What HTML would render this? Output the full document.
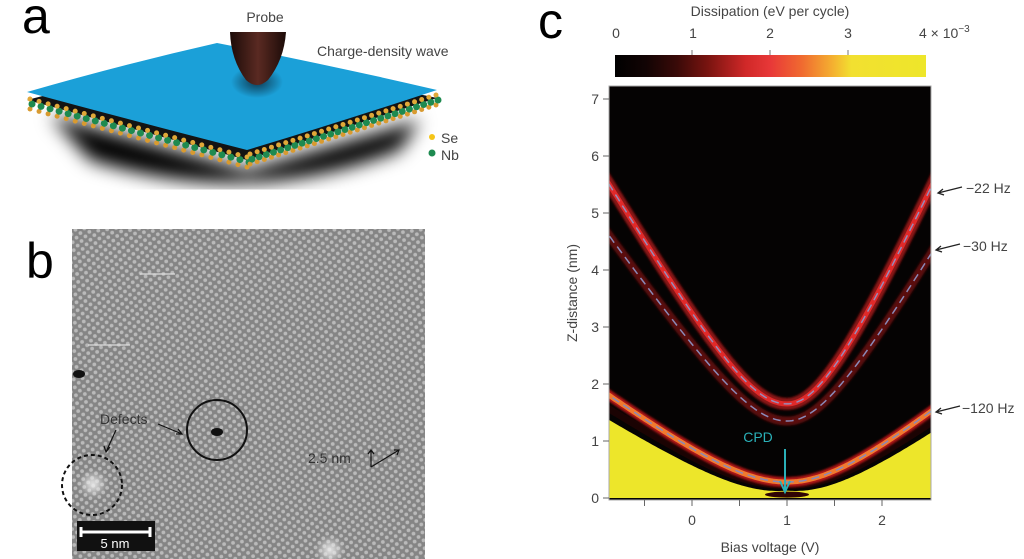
<!DOCTYPE html>
<html><head><meta charset="utf-8">
<style>
html,body{margin:0;padding:0;background:#fff;width:1024px;height:559px;overflow:hidden}
svg{display:block}
text{font-family:"Liberation Sans","DejaVu Sans",sans-serif}
</style></head>
<body>
<svg id="s" width="1024" height="559" viewBox="0 0 1024 559" xmlns="http://www.w3.org/2000/svg">
<defs>
  <radialGradient id="shadow" cx="0.5" cy="0.3" r="0.6">
    <stop offset="0" stop-color="#000" stop-opacity="1"/>
    <stop offset="0.6" stop-color="#000" stop-opacity="0.7"/>
    <stop offset="1" stop-color="#000" stop-opacity="0"/>
  </radialGradient>
  <linearGradient id="tip" x1="0" x2="1">
    <stop offset="0" stop-color="#1c0b08"/><stop offset="0.5" stop-color="#5a2a22"/><stop offset="1" stop-color="#1c0b08"/>
  </linearGradient>
  <radialGradient id="tipShade" cx="0.5" cy="0.5" r="0.5">
    <stop offset="0" stop-color="#0a2030" stop-opacity="0.8"/><stop offset="1" stop-color="#0a2030" stop-opacity="0"/>
  </radialGradient>
  <linearGradient id="cbar" x1="0" x2="1">
    <stop offset="0" stop-color="#000"/>
    <stop offset="0.1" stop-color="#120404"/>
    <stop offset="0.2" stop-color="#3a0a08"/>
    <stop offset="0.3" stop-color="#7a1410"/>
    <stop offset="0.42" stop-color="#d02828"/>
    <stop offset="0.5" stop-color="#e83838"/>
    <stop offset="0.6" stop-color="#f06a30"/>
    <stop offset="0.7" stop-color="#f4b030"/>
    <stop offset="0.76" stop-color="#f2e030"/>
    <stop offset="1" stop-color="#eee62a"/>
  </linearGradient>
  <pattern id="lat" width="9" height="8" patternUnits="userSpaceOnUse" patternTransform="rotate(-8)">
    <rect width="9" height="8" fill="#858585"/>
    <circle cx="2.2" cy="2" r="1.9" fill="#bababa"/>
    <circle cx="6.7" cy="6" r="1.9" fill="#bababa"/>
  </pattern>
  <radialGradient id="bright"><stop offset="0" stop-color="#eee"/><stop offset="1" stop-color="#eee" stop-opacity="0"/></radialGradient>
  <filter id="blur2"><feGaussianBlur stdDeviation="2"/></filter>
  <filter id="blur1"><feGaussianBlur stdDeviation="1"/></filter>
  <filter id="blur8"><feGaussianBlur stdDeviation="9"/></filter>
  <clipPath id="plotclip"><rect x="609" y="86" width="322" height="414"/></clipPath>
</defs>

<!-- Panel a -->
<text x="22" y="33" font-size="50" fill="#000">a</text>
<path d="M50,115 L247,170 L420,120 L400,150 Q250,210 90,160 Z" fill="#000" filter="url(#blur8)"/>
<path d="M27,92 L217,43 L437,90 L247,152 Z" fill="#131313" transform="translate(0,8)"/>
<g id="atoms"></g>
<path d="M27,92 Q120,65 217,43 Q330,65 437,90 Q340,122 247,150 Q130,120 27,92 Z" fill="#1ba0d8"/>
<ellipse cx="257" cy="82" rx="26" ry="16" fill="url(#tipShade)"/>
<path d="M230,32 L286,32 Q284,60 268,80 Q257,90 246,80 Q231,60 230,32 Z" fill="url(#tip)"/>
<text x="265" y="22" font-size="14" fill="#444" text-anchor="middle">Probe</text>
<text x="317" y="56" font-size="14" fill="#444">Charge-density wave</text>
<circle cx="432" cy="137" r="3" fill="#f5c518"/>
<text x="441" y="143" font-size="14" fill="#444">Se</text>
<circle cx="432" cy="153" r="3.5" fill="#1e8a50"/>
<text x="441" y="160" font-size="14" fill="#444">Nb</text>

<!-- Panel b -->
<text x="26" y="278" font-size="50" fill="#000">b</text>
<rect x="72" y="229" width="353" height="330" fill="url(#lat)"/>
<circle cx="93" cy="484" r="14" fill="url(#bright)" filter="url(#blur2)"/>
<circle cx="330" cy="550" r="14" fill="url(#bright)" filter="url(#blur2)"/>
<ellipse cx="79" cy="374" rx="6" ry="4" fill="#111"/>
<ellipse cx="217" cy="432" rx="6" ry="4" fill="#111"/>
<line x1="140" y1="274" x2="175" y2="274" stroke="#ddd" stroke-width="1.2"/>
<line x1="88" y1="345" x2="130" y2="345" stroke="#ddd" stroke-width="1.2"/>
<circle cx="217" cy="430" r="30" fill="none" stroke="#111" stroke-width="2"/>
<circle cx="92" cy="485" r="30" fill="none" stroke="#111" stroke-width="2" stroke-dasharray="4,3"/>
<text x="100" y="424" font-size="14" fill="#333">Defects</text>
<path d="M158,424 L182,434 M176,434 L182,434 L178,429" stroke="#111" fill="none" stroke-width="1.2"/>
<path d="M116,430 L106,452 M104,446 L106,452 L110,447" stroke="#111" fill="none" stroke-width="1.2"/>
<text x="308" y="463" font-size="14" fill="#333">2.5 nm</text>
<path d="M371,467 L371,450 M368,454 L371,450 L374,454 M371,467 L399,450 M394,450 L399,450 L397,455" stroke="#111" fill="none" stroke-width="1.2"/>
<rect x="77" y="521" width="78" height="30" fill="#111"/>
<path d="M81,527 L81,537 M81,532 L150,532 M150,527 L150,537" stroke="#fff" stroke-width="3" fill="none"/>
<text x="115" y="548" font-size="13" fill="#fff" text-anchor="middle">5 nm</text>

<!-- Panel c -->
<text x="538" y="38" font-size="50" fill="#000">c</text>
<text x="770" y="16" font-size="14" fill="#444" text-anchor="middle">Dissipation (eV per cycle)</text>
<g font-size="14" fill="#444" text-anchor="middle">
<text x="616" y="38">0</text><text x="693" y="38">1</text><text x="770" y="38">2</text><text x="848" y="38">3</text>
</g>
<text x="919" y="38" font-size="14" fill="#444">4 × 10<tspan dy="-6" font-size="10">−3</tspan></text>
<rect x="615" y="55" width="311" height="22" fill="url(#cbar)"/>
<g stroke="#777" stroke-width="1"><line x1="692" y1="50" x2="692" y2="55"/><line x1="770" y1="50" x2="770" y2="55"/><line x1="848" y1="50" x2="848" y2="55"/></g>

<rect x="609" y="86" width="322" height="414" fill="#050303"/>
<g id="plot" clip-path="url(#plotclip)"></g>
<rect x="609" y="86" width="322" height="414" fill="none" stroke="#aaa" stroke-width="1"/>
<g id="axes" stroke="#666" stroke-width="1"></g>
<g font-size="14" fill="#444" text-anchor="end" id="ylab"></g>
<g font-size="14" fill="#444" text-anchor="middle">
<text x="692" y="525">0</text><text x="787" y="525">1</text><text x="882" y="525">2</text>
<text x="770" y="552">Bias voltage (V)</text>
</g>
<text transform="translate(577,293) rotate(-90)" font-size="14" fill="#444" text-anchor="middle">Z-distance (nm)</text>
<text x="758" y="442" font-size="14" fill="#2ab0b8" text-anchor="middle">CPD</text>
<path d="M785,449 L785,490 M780,481 L785,492 L790,481" stroke="#2ab0b8" stroke-width="2" fill="none"/>
<g font-size="14" fill="#444">
<text x="966" y="193">−22 Hz</text><text x="963" y="251">−30 Hz</text><text x="962" y="413">−120 Hz</text>
</g>
<g stroke="#222" stroke-width="1.3" fill="none">
<path d="M962,187 L938,193 M943,189 L938,193 L944,195"/>
<path d="M960,244 L936,250 M941,246 L936,250 L942,252"/>
<path d="M960,406 L936,412 M941,408 L936,412 L942,414"/>
</g>
</svg>
<script>
var NS="http://www.w3.org/2000/svg";
function el(p,t,a){var e=document.createElementNS(NS,t);for(var k in a)e.setAttribute(k,a[k]);p.appendChild(e);return e;}
var X=function(v){return 692+95*v;}, Y=function(z){return 498-57*z;};
function curve(c,w,sl,sr,cx){return function(v){var d=v-cx;var s=d<0?sl:sr;return c+s*(Math.sqrt(d*d+w*w)-w);};}
var c22=curve(1.65,0.6,2.82,3.69,1.0), c30=curve(1.35,0.6,2.38,2.85,1.0), c120=curve(0.28,0.8,1.23,1.36,1.0);
function path(f,off){var d="";for(var v=-0.95;v<=2.6;v+=0.02){d+=(d?"L":"M")+X(v).toFixed(1)+","+Y(f(v)+(off||0)).toFixed(1);}return d;}
var P=document.getElementById("plot");
var yd="M"+X(-1)+","+Y(0);
for(var v=-1;v<=2.6;v+=0.02){var dv=Math.abs(v-1);var z=c120(v)-(0.15+0.15*dv); yd+="L"+X(v).toFixed(1)+","+Y(Math.max(z,0)).toFixed(1);}
yd+="L"+X(2.6)+","+Y(0)+"Z";
el(P,"path",{d:yd,fill:"#ede62a"});
el(P,"ellipse",{cx:X(1.0),cy:Y(0.06),rx:22,ry:3,fill:"#300404"});
el(P,"path",{d:path(function(v){return c120(v)-0.05-0.1*Math.abs(v-1);}),stroke:"#200404","stroke-width":7,fill:"none",opacity:0.8});
el(P,"path",{d:path(c120),stroke:"#b01818","stroke-width":10,fill:"none",filter:"url(#blur1)"});
el(P,"path",{d:path(c120),stroke:"#f07a30","stroke-width":5,fill:"none"});
el(P,"path",{d:path(c120),stroke:"#8a8ab8","stroke-width":1.5,fill:"none","stroke-dasharray":"8,5"});
el(P,"path",{d:path(c30),stroke:"#5a0c0c","stroke-width":9,fill:"none",filter:"url(#blur1)"});
el(P,"path",{d:path(c30),stroke:"#8a8ab8","stroke-width":1.5,fill:"none","stroke-dasharray":"8,5"});
el(P,"path",{d:path(c22),stroke:"#8a1414","stroke-width":12,fill:"none",filter:"url(#blur1)"});
el(P,"path",{d:path(c22),stroke:"#e02a2a","stroke-width":5,fill:"none"});
el(P,"path",{d:path(c22),stroke:"#9a8ab8","stroke-width":1.5,fill:"none","stroke-dasharray":"8,5"});
var A=document.getElementById("axes"),L=document.getElementById("ylab");
for(var i=0;i<=7;i++){el(A,"line",{x1:603,x2:609,y1:Y(i),y2:Y(i)});var t=el(L,"text",{x:599,y:Y(i)+5});t.textContent=i;}
[-0.5,0,0.5,1,1.5,2].forEach(function(v){el(A,"line",{x1:X(v),x2:X(v),y1:500,y2:506});});
var G=document.getElementById("atoms");
function row(x0,y0,x1,y1,n,dy){for(var i=0;i<=n;i++){var x=x0+(x1-x0)*i/n,y=y0+(y1-y0)*i/n;
 el(G,"circle",{cx:x,cy:y+dy+7,r:2.5,fill:"#d89a30"});el(G,"circle",{cx:x+2,cy:y+dy+2,r:3.5,fill:"#1e8a50"});el(G,"circle",{cx:x,cy:y+dy-3,r:2.5,fill:"#e0a838"});}}
row(30,96,247,154,24,6);
row(250,154,436,95,26,3);
</script>
</body></html>
